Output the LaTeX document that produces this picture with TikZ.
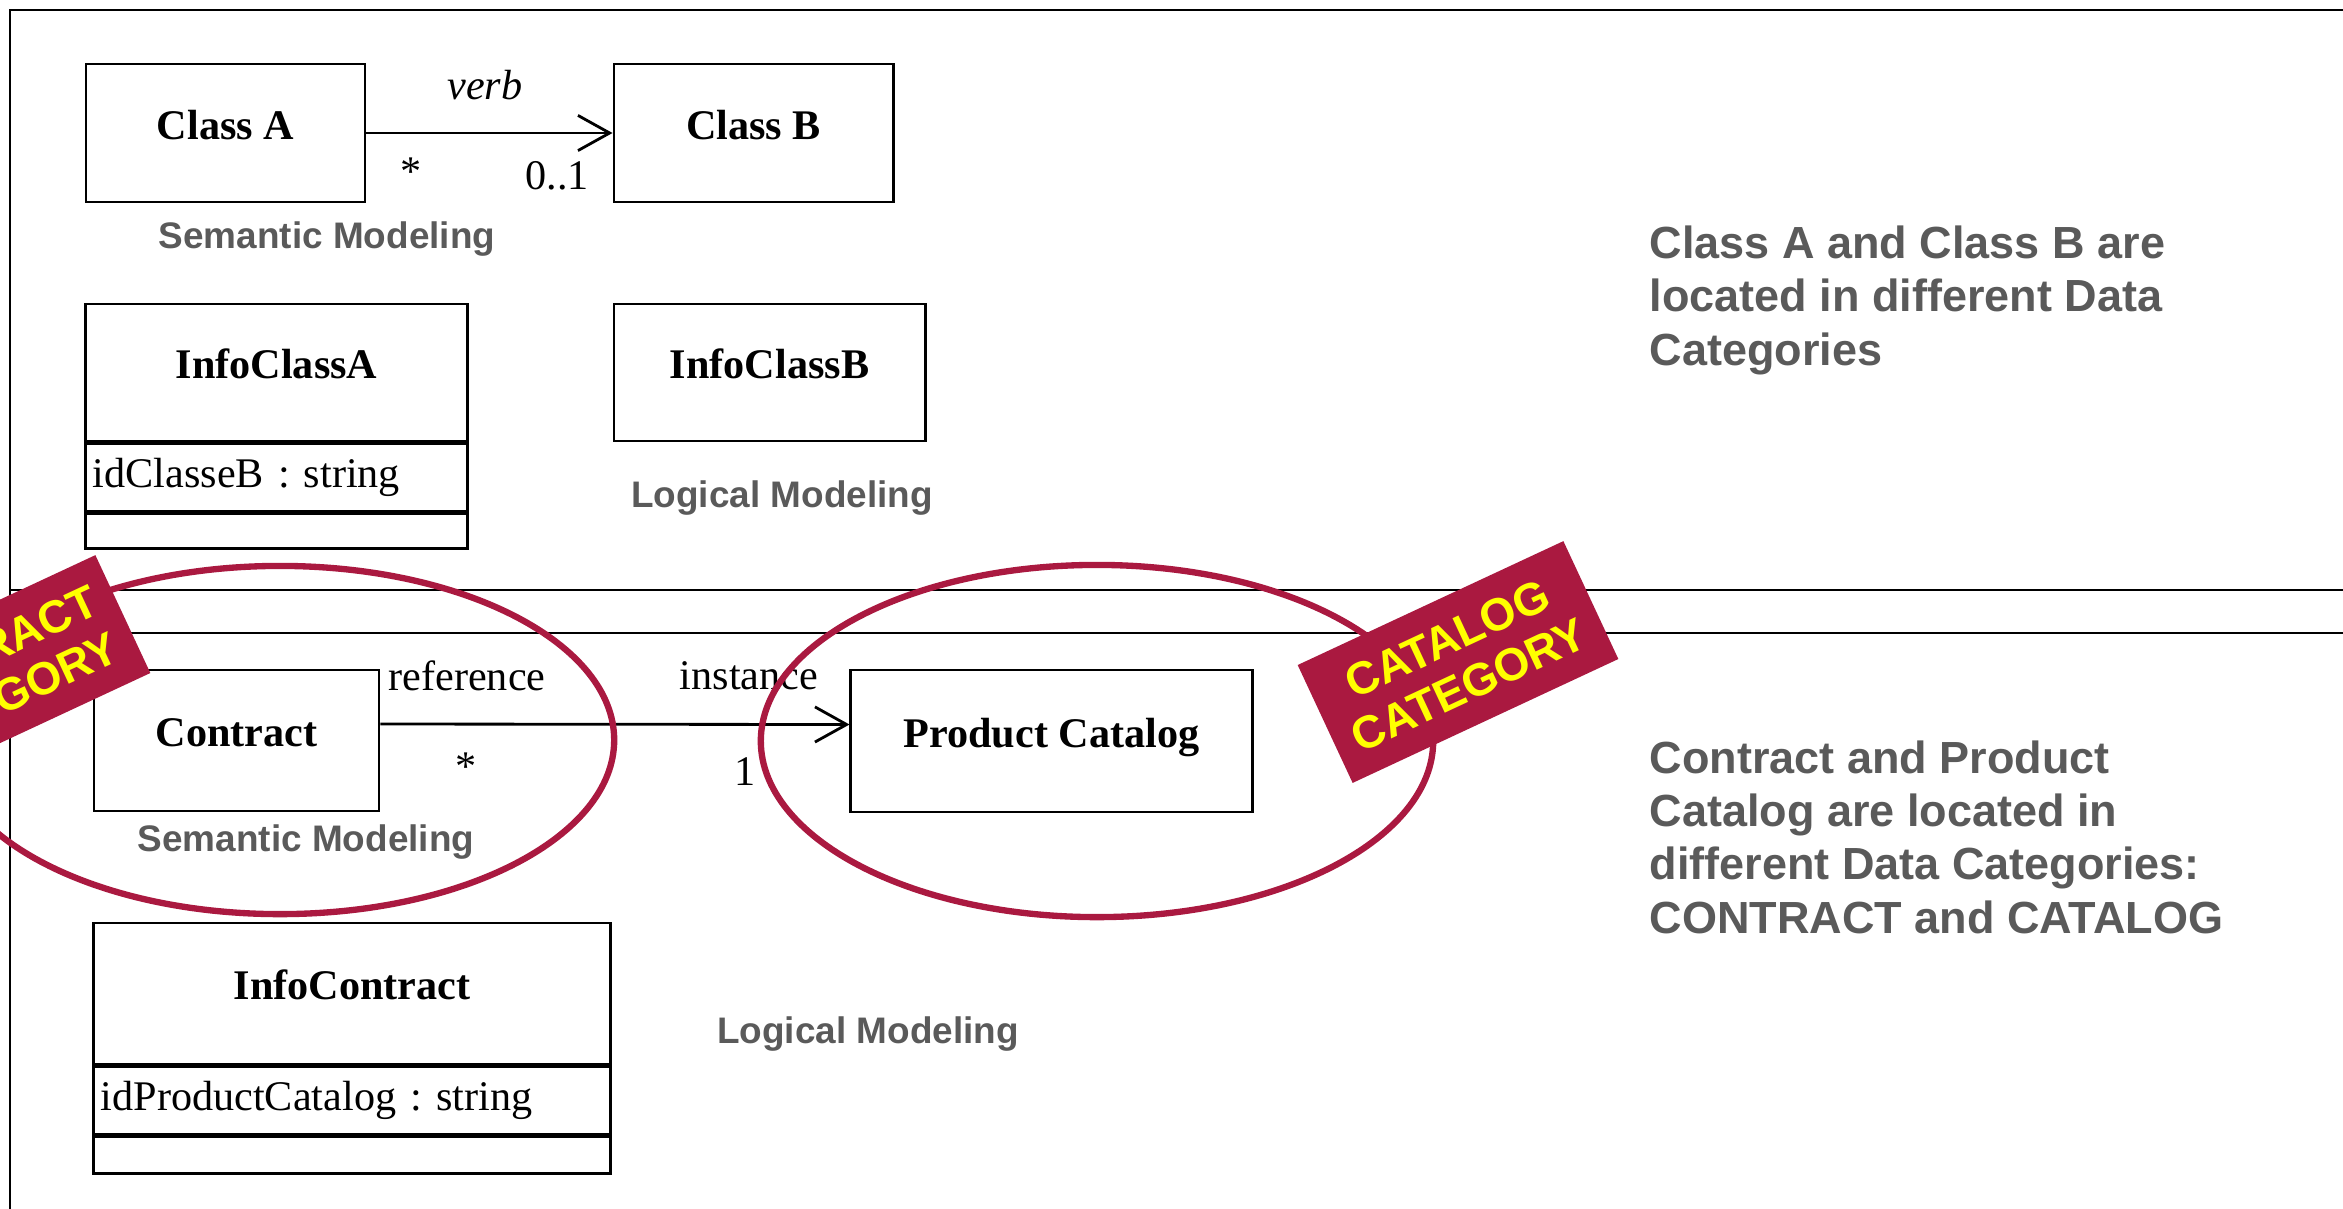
\documentclass[tikz,border=0pt]{standalone}
\usepackage{fontspec}
\setmainfont{Liberation Serif}
\setsansfont{Liberation Sans}
\usepackage{tikz}
\usetikzlibrary{arrows.meta,positioning}
\usepackage{xcolor}
\frenchspacing
\definecolor{ctgray}{RGB}{90,90,90}
\definecolor{ctcrimson}{RGB}{170,25,64}
\definecolor{ctyellow}{RGB}{255,255,0}
\tikzstyle{classbox} = [rectangle, draw=black, line width=0.8pt, fill=white, inner sep=0pt, text height=9pt, text depth=5.4pt, font=\fontsize{12}{14}\selectfont\bfseries]
\tikzstyle{attrbox} = [rectangle, draw=black, line width=0.8pt, inner xsep=0.07cm, inner ysep=0pt, align=left, font=\fontsize{12}{14}\selectfont]
\tikzstyle{assoc} = [line width=0.8pt, -{Straight Barb[length=9pt,width=10pt]}]
\tikzstyle{endlabel} = [inner sep=0pt, font=\fontsize{12}{14}\selectfont]
\tikzstyle{modellabel} = [inner sep=0pt, text=ctgray, font=\sffamily\bfseries\fontsize{10.5}{12}\selectfont]
\tikzstyle{note} = [inner sep=0pt, anchor=base west, align=left, text=ctgray, font=\sffamily\bfseries\fontsize{12.8}{15.1}\selectfont]
\tikzstyle{ring} = [draw=ctcrimson, line width=1.8pt]
\tikzstyle{tag} = [rectangle, fill=ctcrimson, rotate=25, minimum width=2.93cm, minimum height=1.30cm, inner sep=0pt, align=center, text=ctyellow, font=\sffamily\bfseries\fontsize{13}{14.5}\selectfont]

\begin{document}
\begin{tikzpicture}[x=0.01cm, y=-0.01cm]
\useasboundingbox (0,0) rectangle (2343,1208);

% Frames
\draw[line width=0.6pt] (2400,10) -- (10,10) -- (10,1250);
\draw[line width=0.6pt] (10,590) -- (2400,590);
\draw[line width=0.6pt] (10,633) -- (2400,633);

% Semantic model, top
\node[classbox, minimum width=2.79cm, minimum height=1.38cm] (classA) at (225.5,133) {Class A};
\node[classbox, minimum width=2.79cm, minimum height=1.38cm] (classB) at (753.5,133) {Class B};
\draw[assoc] (classA) -- (classB);
\node[endlabel, font=\fontsize{12}{14}\selectfont\itshape] (verb) at (485,85) {verb};
\node[endlabel] (multA) at (411,172) {*};
\node[endlabel] (multB) at (557,176) {0..1};
\node[modellabel] (semTop) at (327,239) {Semantic Modeling};

% Logical model, top
\node[classbox, minimum width=3.81cm, minimum height=1.37cm] (infoA) at (276.5,372.5) {InfoClassA};
\node[attrbox, text width=3.67cm, minimum height=0.67cm, below=0pt of infoA] (infoAattr) {idClasseB : string};
\node[attrbox, text width=3.67cm, minimum height=0.35cm, below=0pt of infoAattr] (infoAops) {};
\node[classbox, minimum width=3.11cm, minimum height=1.37cm] (infoB) at (769.5,372.5) {InfoClassB};
\node[modellabel] (logTop) at (782,498) {Logical Modeling};

% Semantic model, bottom
\node[classbox, minimum width=2.85cm, minimum height=1.41cm] (contract) at (236.5,740.5) {Contract};
\node[classbox, minimum width=4.01cm, minimum height=1.42cm] (catalog) at (1051.5,741) {Product Catalog};
\draw[assoc] ([yshift=0.165cm]contract.east) -- ([yshift=0.165cm]catalog.west);
\node[endlabel] (refLabel) at (467,676) {reference};
\node[endlabel] (multC) at (466,767) {*};
\node[endlabel] (instLabel) at (749,676) {instance};
\node[endlabel] (multD) at (745,772) {1};
\node[modellabel] (semBottom) at (306,842) {Semantic Modeling};

% Logical model, bottom
\node[classbox, minimum width=5.16cm, minimum height=1.41cm] (infoC) at (352,993.5) {InfoContract};
\node[attrbox, text width=5.02cm, minimum height=0.67cm, below=0pt of infoC] (infoCattr) {idProductCatalog : string};
\node[attrbox, text width=5.02cm, minimum height=0.37cm, below=0pt of infoCattr] (infoCops) {};
\node[modellabel] (logBottom) at (868,1034) {Logical Modeling};

% Notes (placed by the baseline of their last line)
\node[note] (noteTop) at (1649,365) {Class A and Class B are\\located in different Data\\Categories};
\node[note] (noteBottom) at (1649,933) {Contract and Product\\Catalog are located in\\different Data Categories:\\CONTRACT and CATALOG};

% Data categories
\draw[ring] (280,740) ellipse [x radius=3.34cm, y radius=1.74cm];
\draw[ring] (1097,741) ellipse [x radius=3.36cm, y radius=1.76cm];
\node[tag] (contractTag) at (-10,676) {CONTRACT\\CATEGORY};
\node[tag] (catalogTag) at (1458,662) {CATALOG\\CATEGORY};
\end{tikzpicture}
\end{document}
